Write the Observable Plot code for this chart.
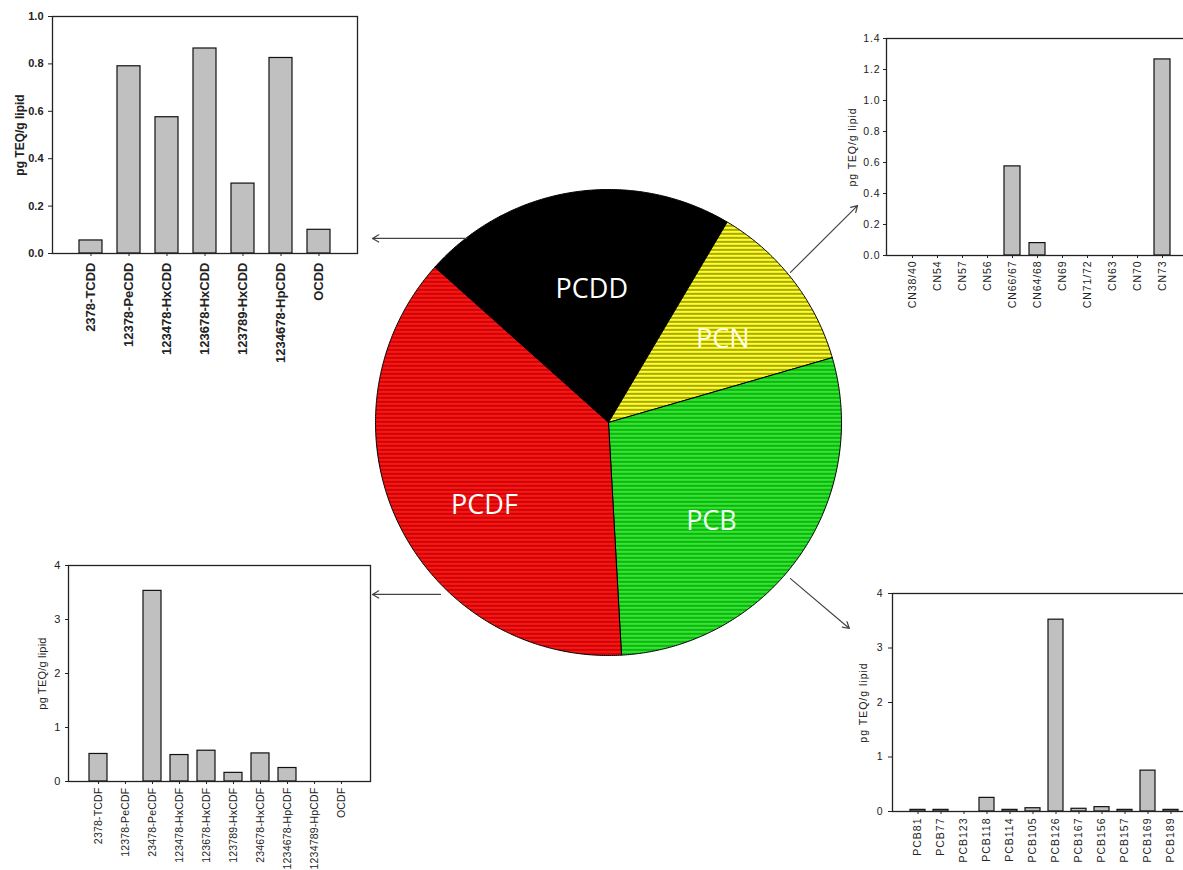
<!DOCTYPE html>
<html>
<head>
<meta charset="utf-8">
<script src="https://cdn.jsdelivr.net/npm/d3@7"></script>
<script src="https://cdn.jsdelivr.net/npm/@observablehq/plot@0.6"></script>
<style>
  html, body { margin: 0; padding: 0; background: #fff; }
  #page { position: relative; width: 1183px; height: 870px; overflow: hidden; background: #fff; }
  .panel { position: absolute; }
  .panel svg { max-width: none; overflow: visible; display: block; }
</style>
</head>
<body>
<div id="page"></div>
<script>
// ---------------- DATA ----------------
const pcddCongeners = ["2378-TCDD", "12378-PeCDD", "123478-HxCDD", "123678-HxCDD", "123789-HxCDD", "1234678-HpCDD", "OCDD"];
const pcddValues = [0.055, 0.79, 0.575, 0.865, 0.295, 0.825, 0.10];
const pcddTicks = [0, 0.2, 0.4, 0.6, 0.8, 1.0];

const pcnCongeners = ["CN38/40", "CN54", "CN57", "CN56", "CN66/67", "CN64/68", "CN69", "CN71/72", "CN63", "CN70", "CN73"];
const pcnValues = [0, 0, 0, 0, 0.575, 0.08, 0, 0, 0, 0, 1.265];
const pcnTicks = [0, 0.2, 0.4, 0.6, 0.8, 1.0, 1.2, 1.4];

const pcdfCongeners = ["2378-TCDF", "12378-PeCDF", "23478-PeCDF", "123478-HxCDF", "123678-HxCDF", "123789-HxCDF", "234678-HxCDF", "1234678-HpCDF", "1234789-HpCDF", "OCDF"];
const pcdfValues = [0.51, 0, 3.53, 0.49, 0.57, 0.16, 0.52, 0.25, 0, 0];
const pcdfTicks = [0, 1, 2, 3, 4];

const pcbCongeners = ["PCB81", "PCB77", "PCB123", "PCB118", "PCB114", "PCB105", "PCB126", "PCB167", "PCB156", "PCB157", "PCB169", "PCB189"];
const pcbValues = [0.03, 0.03, 0, 0.25, 0.03, 0.06, 3.52, 0.05, 0.08, 0.03, 0.75, 0.03];
const pcbTicks = [0, 1, 2, 3, 4];

const pieGroups = ["PCDD", "PCN", "PCB", "PCDF"];
const pieShares = [21.9, 12.0, 28.6, 37.5];

const yLabel = "pg TEQ/g lipid";

// ---------------- LAYOUT ----------------
const page = document.getElementById("page");
function place(el, left, top) {
  const d = document.createElement("div");
  d.className = "panel";
  d.style.left = left + "px";
  d.style.top = top + "px";
  d.appendChild(el);
  page.appendChild(d);
}

function barChart(o) {
  const data = o.names.map((n, i) => ({name: n, value: o.values[i]}));
  return Plot.plot({
    width: o.ml + o.pw + o.mr,
    height: o.mt + o.ph + o.mb,
    marginLeft: o.ml, marginTop: o.mt, marginRight: o.mr, marginBottom: o.mb,
    style: {
      fontFamily: "'Liberation Sans', Arial, sans-serif",
      color: "#222", background: "transparent", overflow: "visible",
      maxWidth: "none", letterSpacing: o.lsp || "0px"
    },
    x: {type: "band", domain: o.names, paddingInner: o.pi, paddingOuter: o.po, label: null},
    y: {domain: o.yDomain, label: null},
    marks: [
      Plot.barY(data, {x: "name", y: "value", fill: "#c0c0c0", stroke: "#111", strokeWidth: 1.2}),
      Plot.frame({stroke: "#222", strokeWidth: 1.3}),
      Plot.axisY({ticks: o.ticks, tickFormat: o.fmt, tickSize: o.yts, tickPadding: o.ytp,
        label: null, fontSize: o.tickFont, fontWeight: o.bold ? "bold" : "normal"}),
      Plot.axisX({tickRotate: -90, tickSize: 3, tickPadding: o.xtp, label: null,
        fontSize: o.xFont, fontWeight: o.bold ? "bold" : "normal"}),
      Plot.text([yLabel], {frameAnchor: "left", text: d => d, rotate: -90, dx: -o.labelOff,
        textAnchor: "middle", lineAnchor: "middle", fontSize: o.labelFont,
        fontWeight: o.bold ? "bold" : "normal", fill: "#222"})
    ]
  });
}

// top-left: PCDD
place(barChart({
  names: pcddCongeners, values: pcddValues, yDomain: [0, 1], ticks: pcddTicks, fmt: d3.format(".1f"),
  ml: 52, mt: 16, pw: 305, ph: 237, mr: 10, mb: 100,
  pi: 0.4, po: 0.7, yts: 4, ytp: 5, xtp: 6,
  tickFont: 11, xFont: 13, labelFont: 12, labelOff: 32, bold: true
}), 0, 0);

// top-right: PCN
place(barChart({
  names: pcnCongeners, values: pcnValues, yDomain: [0, 1.4], ticks: pcnTicks, fmt: d3.format(".1f"),
  ml: 66, mt: 38, pw: 302, ph: 217, mr: 10, mb: 80,
  pi: 0.37, po: 0.685, yts: 3, ytp: 3, xtp: 2,
  tickFont: 10.5, xFont: 10.5, labelFont: 10.5, labelOff: 34, lsp: "0.9px"
}), 820, 0);

// bottom-left: PCDF
place(barChart({
  names: pcdfCongeners, values: pcdfValues, yDomain: [0, 4], ticks: pcdfTicks, fmt: d3.format("d"),
  ml: 68, mt: 20, pw: 302, ph: 216, mr: 10, mb: 100,
  pi: 0.35, po: 0.675, yts: 3, ytp: 5, xtp: 3,
  tickFont: 11, xFont: 10.5, labelFont: 11, labelOff: 26, lsp: "0.2px"
}), 0, 545);

// bottom-right: PCB
place(barChart({
  names: pcbCongeners, values: pcbValues, yDomain: [0, 4], ticks: pcbTicks, fmt: d3.format("d"),
  ml: 62, mt: 20, pw: 303, ph: 218, mr: 10, mb: 70,
  pi: 0.36, po: 0.68, yts: 4, ytp: 5, xtp: 3,
  tickFont: 10.5, xFont: 10.5, labelFont: 10.5, labelOff: 29, lsp: "1px"
}), 830, 573);

// ---------------- PIE ----------------
const pieRadiusPx = 233;
const pieHalf = 260;                 // half-size of the pie svg in px
const R = pieHalf / pieRadiusPx;     // domain half-extent in radius units
const startAngle = -48.2 * Math.PI / 180;
const pieData = pieGroups.map((g, i) => ({group: g, share: pieShares[i]}));
const arcs = d3.pie().sort(null).value(d => d.share)
  .startAngle(startAngle).endAngle(startAngle + 2 * Math.PI)(pieData);

const slicePts = arcs.map(a => {
  const n = Math.max(2, Math.ceil((a.endAngle - a.startAngle) / (Math.PI / 360)));
  const pts = [{x: 0, y: 0}];
  for (let k = 0; k <= n; k++) {
    const t = a.startAngle + (a.endAngle - a.startAngle) * k / n;
    pts.push({x: Math.sin(t), y: Math.cos(t)});
  }
  pts.push({x: 0, y: 0});
  return {group: a.data.group, pts};
});

const sliceFill = {PCDD: "#000000", PCN: "url(#pat-pcn)", PCB: "url(#pat-pcb)", PCDF: "url(#pat-pcdf)"};
const labelColor = {PCDD: "#ffffff", PCN: "#fffbe0", PCB: "#f0fff0", PCDF: "#ffffff"};
const labelNudgePx = {PCDD: [5, 7], PCN: [2, 4], PCB: [-13, 17], PCDF: [4, 21]};
const labelR = 0.61;
const labels = arcs.map(a => {
  const m = (a.startAngle + a.endAngle) / 2, g = a.data.group;
  return {
    group: g,
    x: labelR * Math.sin(m) + labelNudgePx[g][0] / pieRadiusPx,
    y: labelR * Math.cos(m) - labelNudgePx[g][1] / pieRadiusPx
  };
});

// connector arrows (in pie-radius units)
const connectors = [
  {x1: -0.609, y1: 0.790, x2: -1.013, y2: 0.790},
  {x1: 0.781, y1: 0.644, x2: 1.069, y2: 0.931},
  {x1: -0.721, y1: -0.738, x2: -1.013, y2: -0.738},
  {x1: 0.781, y1: -0.670, x2: 1.034, y2: -0.884}
];

const piePlot = Plot.plot({
  width: 2 * pieHalf, height: 2 * pieHalf,
  margin: 0,
  style: {background: "transparent", overflow: "visible", maxWidth: "none"},
  x: {domain: [-R, R], axis: null},
  y: {domain: [-R, R], axis: null},
  marks: [
    ...slicePts.map(s => Plot.line(s.pts, {x: "x", y: "y", fill: sliceFill[s.group],
      stroke: "#000", strokeWidth: 1, strokeLinejoin: "round", curve: "linear"})),
    Plot.text(labels, {x: "x", y: "y", text: "group", fill: d => labelColor[d.group],
      fontSize: 27, fontFamily: "'Open Sans', 'Noto Sans', sans-serif"}),
    Plot.arrow(connectors, {x1: "x1", y1: "y1", x2: "x2", y2: "y2",
      stroke: "#444", strokeWidth: 1.2, headLength: 9, headAngle: 60})
  ]
});

// stripe patterns
const ns = "http://www.w3.org/2000/svg";
const defs = document.createElementNS(ns, "defs");
const pats = [
  {id: "pat-pcdf", base: "#ff1414", line: "#a00000"},
  {id: "pat-pcb", base: "#2aea2a", line: "#0b8a0b"},
  {id: "pat-pcn", base: "#ffff26", line: "#6e6e00"}
];
for (const p of pats) {
  const pat = document.createElementNS(ns, "pattern");
  pat.setAttribute("id", p.id);
  pat.setAttribute("patternUnits", "userSpaceOnUse");
  pat.setAttribute("width", "8");
  pat.setAttribute("height", "4");
  const r1 = document.createElementNS(ns, "rect");
  r1.setAttribute("width", "8"); r1.setAttribute("height", "4"); r1.setAttribute("fill", p.base);
  const r2 = document.createElementNS(ns, "rect");
  r2.setAttribute("y", "2.8"); r2.setAttribute("width", "8"); r2.setAttribute("height", "1.2");
  r2.setAttribute("fill", p.line);
  pat.appendChild(r1); pat.appendChild(r2);
  defs.appendChild(pat);
}
const pieSvg = piePlot.tagName.toLowerCase() === "svg" ? piePlot : piePlot.querySelector("svg");
pieSvg.insertBefore(defs, pieSvg.firstChild);
place(piePlot, 608 - pieHalf, 422 - pieHalf);
</script>
</body>
</html>
